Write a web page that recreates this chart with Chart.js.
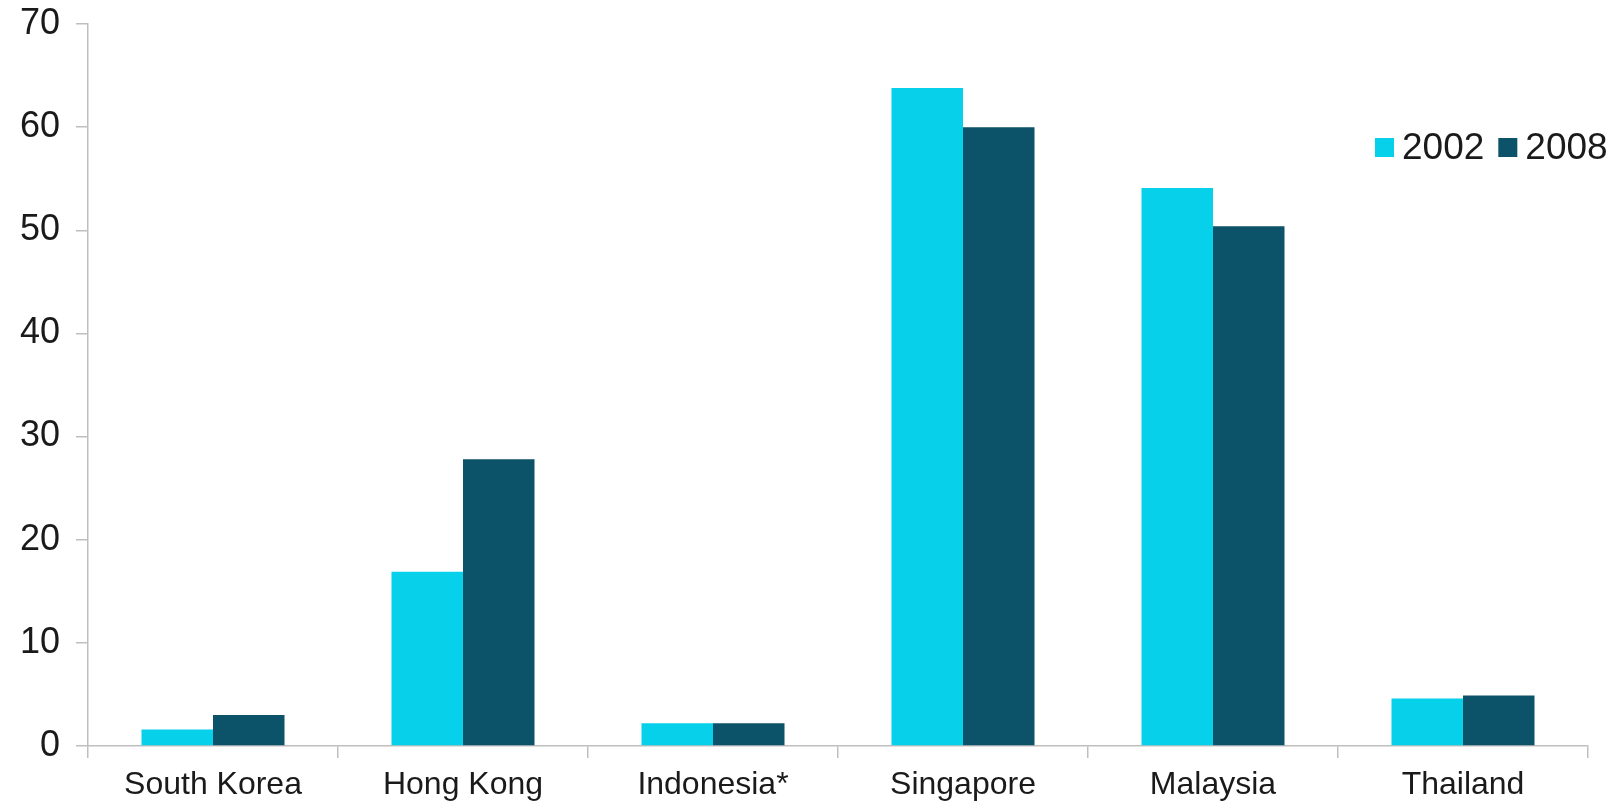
<!DOCTYPE html>
<html>
<head>
<meta charset="utf-8">
<script src="https://cdn.jsdelivr.net/npm/chart.js@4.4.1/dist/chart.umd.min.js"></script>
<style>
  html, body { margin: 0; padding: 0; background: #fff; }
  #wrap { width: 1624px; height: 802px; position: relative; }
</style>
</head>
<body>
<div id="wrap"><canvas id="c"></canvas></div>
<script>
const categories = ['South Korea', 'Hong Kong', 'Indonesia*', 'Singapore', 'Malaysia', 'Thailand'];
const values2002 = [1.6, 16.9, 2.2, 63.8, 54.1, 4.6];
const values2008 = [3.0, 27.8, 2.2, 60.0, 50.4, 4.9];
const seriesLabels = ['2002', '2008'];
const yTicks = [0, 10, 20, 30, 40, 50, 60, 70];

const COL_2002 = '#06D0EA';
const COL_2008 = '#0C5268';
const AXIS = '#BFBFBF';
const FONT = '"Liberation Sans", Arial, sans-serif';

const legendPlugin = {
  id: 'insideLegend',
  afterDraw(chart) {
    const ctx = chart.ctx;
    ctx.save();
    ctx.font = '37px ' + FONT;
    ctx.textBaseline = 'middle';
    let x = 1375;
    const cy = 148;
    chart.data.datasets.forEach((ds) => {
      ctx.fillStyle = ds.backgroundColor;
      ctx.fillRect(x, cy - 10, 19, 19);
      x += 27;
      ctx.fillStyle = '#1a1a1a';
      ctx.textAlign = 'left';
      ctx.fillText(ds.label, x, cy + 1);
      x += ctx.measureText(ds.label).width + 14;
    });
    ctx.restore();
  }
};

new Chart(document.getElementById('c'), {
  type: 'bar',
  data: {
    labels: categories,
    datasets: [
      { label: seriesLabels[0], data: values2002, backgroundColor: COL_2002, borderWidth: 0 },
      { label: seriesLabels[1], data: values2008, backgroundColor: COL_2008, borderWidth: 0 }
    ]
  },
  options: {
    responsive: true,
    maintainAspectRatio: false,
    animation: false,
    layout: { padding: { left: 0, right: 36, top: 24, bottom: 0 } },
    datasets: { bar: { categoryPercentage: 0.572, barPercentage: 1.0 } },
    plugins: { legend: { display: false }, tooltip: { enabled: false } },
    scales: {
      x: {
        afterFit(axis) { axis.height = 56; axis.paddingLeft = 0; axis.paddingRight = 0; },
        grid: { display: true, drawOnChartArea: false, offset: true, color: AXIS, tickLength: 12, lineWidth: 1.5 },
        border: { display: true, color: AXIS, width: 1.5 },
        ticks: { color: '#1a1a1a', font: { family: FONT, size: 32 }, padding: 8, maxRotation: 0 }
      },
      y: {
        min: 0, max: 70,
        afterFit(axis) { axis.width = 88; axis.paddingTop = 0; axis.paddingBottom = 0; },
        afterBuildTicks(axis) { axis.ticks = yTicks.map(v => ({ value: v })); },
        grid: { display: true, drawOnChartArea: false, color: AXIS, tickLength: 12, lineWidth: 1.5 },
        border: { display: true, color: AXIS, width: 1.5 },
        ticks: { color: '#1a1a1a', font: { family: FONT, size: 36 }, padding: 16 }
      }
    }
  },
  plugins: [legendPlugin]
});
</script>
</body>
</html>
